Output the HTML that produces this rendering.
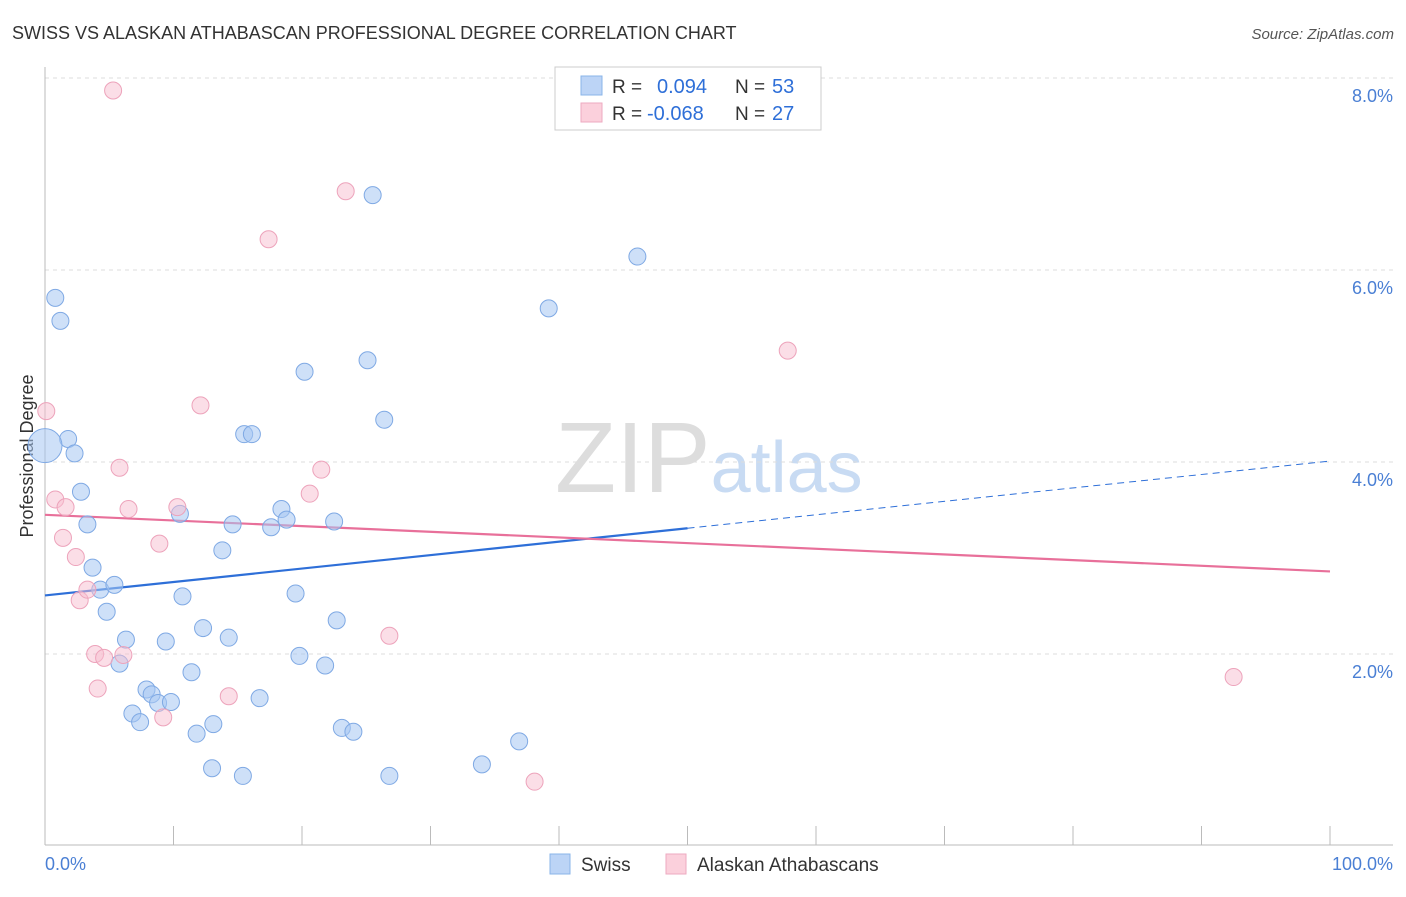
<!DOCTYPE html>
<html><head><meta charset="utf-8"><style>
body{margin:0;background:#fff;font-family:"Liberation Sans",sans-serif;}
svg text{font-family:"Liberation Sans",sans-serif;}
</style></head><body>
<svg id="chart" width="1406" height="892" xmlns="http://www.w3.org/2000/svg">
<text x="12" y="39" font-size="18" fill="#333">SWISS VS ALASKAN ATHABASCAN PROFESSIONAL DEGREE CORRELATION CHART</text>
<text x="1394" y="39" font-size="15" fill="#555" text-anchor="end" font-style="italic">Source: ZipAtlas.com</text>
<text x="555" y="492" font-size="100" fill="#ddd" font-family="Liberation Serif">ZIP<tspan fill="#c8dbf3" font-family="Liberation Sans" font-size="72">atlas</tspan></text>
<text transform="translate(33,456) rotate(-90)" font-size="18" fill="#333" text-anchor="middle">Professional Degree</text>
<g id="grid"></g><g id="trend"></g><g id="pts"></g>
<g>
<rect x="555" y="67" width="266" height="63" fill="#fff" stroke="#ccc"/>
<rect x="581" y="76" width="21" height="19" fill="#bcd4f6" stroke="#8ab4e8"/>
<rect x="581" y="103" width="21" height="19" fill="#fbd0dc" stroke="#eeaac0"/>
<text x="612" y="93" font-size="19" fill="#333">R =</text>
<text x="657" y="93" font-size="20" fill="#2e6fd8">0.094</text>
<text x="735" y="93" font-size="19" fill="#333">N =</text>
<text x="772" y="93" font-size="20" fill="#2e6fd8">53</text>
<text x="612" y="120" font-size="19" fill="#333">R =</text>
<text x="647" y="120" font-size="20" fill="#2e6fd8">-0.068</text>
<text x="735" y="120" font-size="19" fill="#333">N =</text>
<text x="772" y="120" font-size="20" fill="#2e6fd8">27</text>
</g>
<g>
<rect x="550" y="854" width="20" height="20" fill="#bcd4f6" stroke="#8ab4e8"/>
<text x="581" y="871" font-size="19" fill="#333">Swiss</text>
<rect x="666" y="854" width="20" height="20" fill="#fbd0dc" stroke="#eeaac0"/>
<text x="697" y="871" font-size="19" fill="#333">Alaskan Athabascans</text>
</g>
</svg>
<script>
const yTicks=[2,4,6,8];
const yTickLabels=["2.0%","4.0%","6.0%","8.0%"];
const swissX=[0.8,1.2,1.8,2.3,2.8,3.3,3.7,4.3,4.8,5.4,5.8,6.3,6.8,7.4,7.9,8.3,8.8,9.4,9.8,10.5,10.7,11.4,11.8,12.3,13.0,13.1,13.8,14.3,14.6,15.4,15.5,16.1,16.7,17.6,18.4,18.8,19.5,19.8,20.2,21.8,22.5,22.7,23.1,24.0,25.1,25.5,26.4,26.8,34.0,36.9,39.2,46.1,0.0];
const swissY=[5.71,5.47,4.24,4.09,3.69,3.35,2.90,2.67,2.44,2.72,1.90,2.15,1.38,1.29,1.63,1.58,1.49,2.13,1.50,3.46,2.60,1.81,1.17,2.27,0.81,1.27,3.08,2.17,3.35,0.73,4.29,4.29,1.54,3.32,3.51,3.40,2.63,1.98,4.94,1.88,3.38,2.35,1.23,1.19,5.06,6.78,4.44,0.73,0.85,1.09,5.60,6.14,4.17];
const athX=[0.1,0.8,1.4,1.6,2.4,2.7,3.3,3.9,4.1,4.6,5.3,5.8,6.1,6.5,8.9,9.2,10.3,12.1,14.3,17.4,20.6,21.5,23.4,26.8,38.1,57.8,92.5];
const athY=[4.53,3.61,3.21,3.53,3.01,2.56,2.67,2.00,1.64,1.96,7.87,3.94,1.99,3.51,3.15,1.34,3.53,4.59,1.56,6.32,3.67,3.92,6.82,2.19,0.67,5.16,1.76];
const swissTrend=[2.61,4.01];
const athTrend=[3.45,2.86];
const NS="http://www.w3.org/2000/svg";
const X=v=>45+v*12.85, Y=v=>846-v*96;
function mk(t,a,p){const e=document.createElementNS(NS,t);for(const k in a)e.setAttribute(k,a[k]);p.appendChild(e);return e;}
const g=document.getElementById('grid');
yTicks.forEach((t,i)=>{
 const l=mk('line',{x1:45,x2:1393,y1:Y(t),y2:Y(t),stroke:'#ddd','stroke-dasharray':'4,4'},g);
 
 
 const tx=mk('text',{x:1393,y:Y(t)+24,'font-size':18,fill:'#4a7fd4','text-anchor':'end'},g);
 tx.textContent=yTickLabels[i];
 
 
});
mk('line',{x1:45,x2:45,y1:67,y2:845,stroke:'#bbb'},g);
mk('line',{x1:45,x2:1393,y1:845,y2:845,stroke:'#bbb'},g);
for(let i=0;i<=10;i++){mk('line',{x1:X(i*10),x2:X(i*10),y1:826,y2:845,stroke:'#bbb'},g);}
const a0=mk('text',{x:45,y:870,'font-size':18,fill:'#4a7fd4'},g);a0.textContent='0.0%';


const a1=mk('text',{x:1393,y:870,'font-size':18,fill:'#4a7fd4','text-anchor':'end'},g);a1.textContent='100.0%';


const tr=document.getElementById('trend');
const sAt=x=>swissTrend[0]+(swissTrend[1]-swissTrend[0])*x/100;
const l1=mk('line',{x1:X(0),y1:Y(sAt(0)),x2:X(50),y2:Y(sAt(50)),stroke:'#2e6fd8','stroke-width':2.2},tr);


const l2=mk('line',{x1:X(50),y1:Y(sAt(50)),x2:X(100),y2:Y(sAt(100)),stroke:'#2e6fd8','stroke-width':1,'stroke-dasharray':'7,5'},tr);


const l3=mk('line',{x1:X(0),y1:Y(athTrend[0]),x2:X(100),y2:Y(athTrend[1]),stroke:'#e8709a','stroke-width':2.2},tr);


const p=document.getElementById('pts');
swissX.forEach((x,i)=>{
 const c=mk('circle',{cx:X(x),cy:Y(swissY[i]),r:i==swissX.length-1?17:8.5,fill:'rgba(165,198,242,0.55)',stroke:'#7fa9e4','stroke-width':1},p);
 
 
});
athX.forEach((x,i)=>{
 const c=mk('circle',{cx:X(x),cy:Y(athY[i]),r:8.5,fill:'rgba(248,190,208,0.5)',stroke:'#eda3bb','stroke-width':1},p);
 
 
});
</script>
</body></html>
